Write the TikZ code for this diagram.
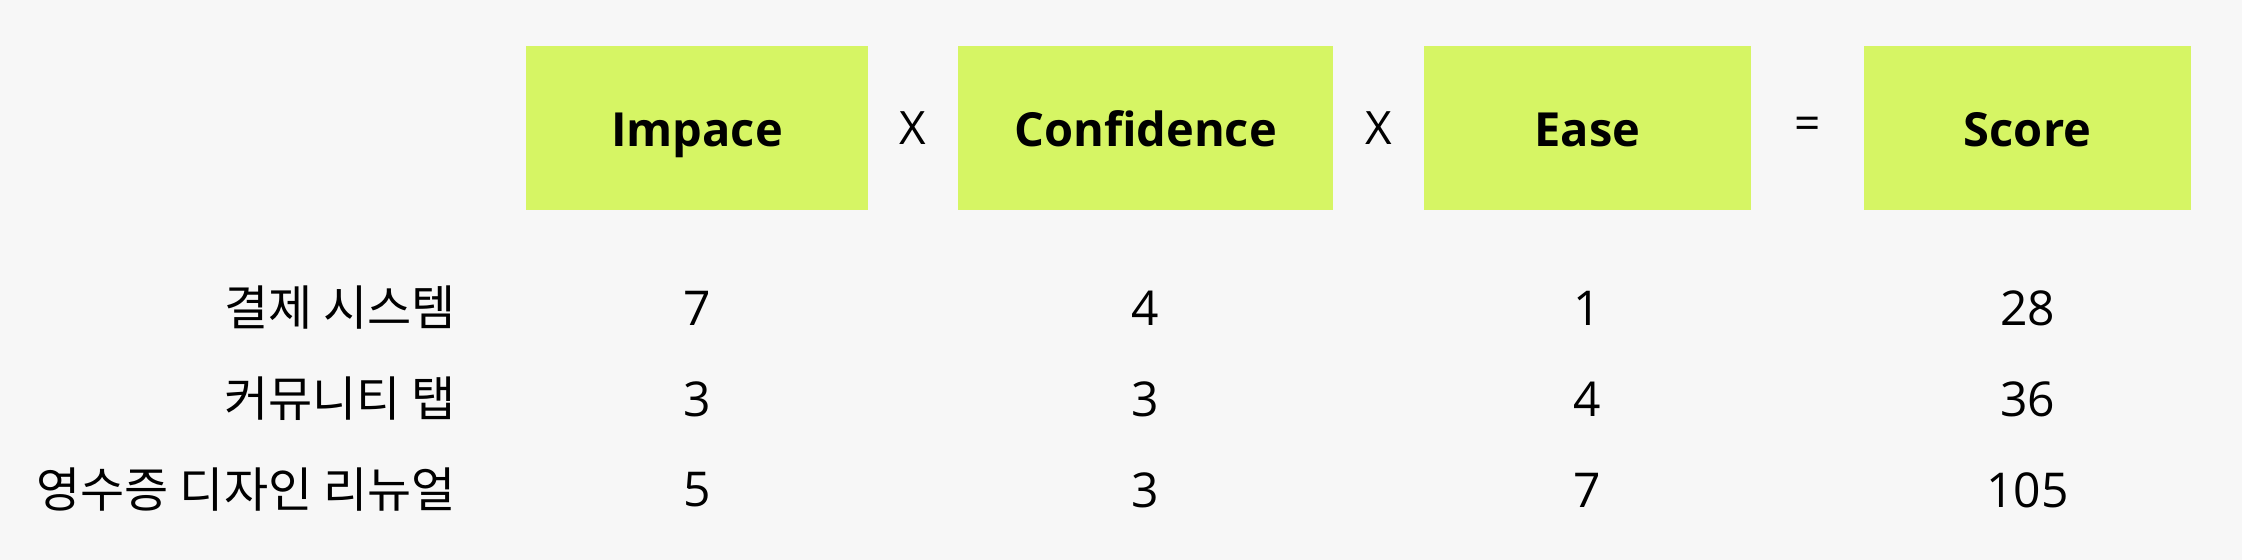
\documentclass[tikz,border=0pt]{standalone}
\usepackage{fontspec}
\setmainfont{Open Sans}
\newfontfamily\kr{Noto Sans CJK KR}
\usetikzlibrary{positioning,calc}
\definecolor{tagfill}{HTML}{D6F564}
\definecolor{paper}{HTML}{F7F7F7}
\tikzset{%
  % Specifications for style of nodes:
            base/.style = {rectangle, fill=tagfill, minimum height=82pt,
                           outer sep=0pt, text centered,
                           text height=18.4pt, text depth=0pt,
                           font=\fontsize{23.5}{28}\selectfont\bfseries},
              op/.style = {font=\fontsize{23}{28}\selectfont},
             val/.style = {font=\fontsize{24}{28}\selectfont},
            item/.style = {anchor=east, inner xsep=0pt,
                           font=\kr\fontsize{24}{28}\selectfont}
}

\begin{document}
\begin{tikzpicture}[x=0.5pt, y=-0.5pt]
  \fill[paper] (0,0) rectangle (2242,560);
  \useasboundingbox (0,0) rectangle (2242,560);

  % Specification of header nodes (position, etc.)
  \node (impace)     [base, minimum width=171pt] at (697,128) {Impace};
  \node (confidence) [base, minimum width=187.5pt, right=45pt of impace] {Confidence};
  \node (ease)       [base, minimum width=163.5pt, right=45.5pt of confidence] {Ease};
  \node (score)      [base, minimum width=163.5pt, right=56.5pt of ease] {Score};

  % operators between the header nodes
  \node (times1) [op] at ($(impace.east)!0.5!(confidence.west)$) {X};
  \node (times2) [op] at ($(confidence.east)!0.5!(ease.west)$) {X};
  \node (equals) [op] at ($(ease.east)!0.5!(score.west)$) {=};

  % row labels
  \node (pay)       [item] at (456,308) {결제 시스템};
  \node (community) [item] at (456,399) {커뮤니티 탭};
  \node (receipt)   [item] at (456,490) {영수증 디자인 리뉴얼};

  % values under each header
  \node (pay-i)       [val] at (impace |- pay) {7};
  \node (pay-c)       [val] at (confidence |- pay) {4};
  \node (pay-e)       [val] at (ease |- pay) {1};
  \node (pay-s)       [val] at (score |- pay) {28};
  \node (community-i) [val] at (impace |- community) {3};
  \node (community-c) [val] at (confidence |- community) {3};
  \node (community-e) [val] at (ease |- community) {4};
  \node (community-s) [val] at (score |- community) {36};
  \node (receipt-i)   [val] at (impace |- receipt) {5};
  \node (receipt-c)   [val] at (confidence |- receipt) {3};
  \node (receipt-e)   [val] at (ease |- receipt) {7};
  \node (receipt-s)   [val] at (score |- receipt) {105};
\end{tikzpicture}
\end{document}
